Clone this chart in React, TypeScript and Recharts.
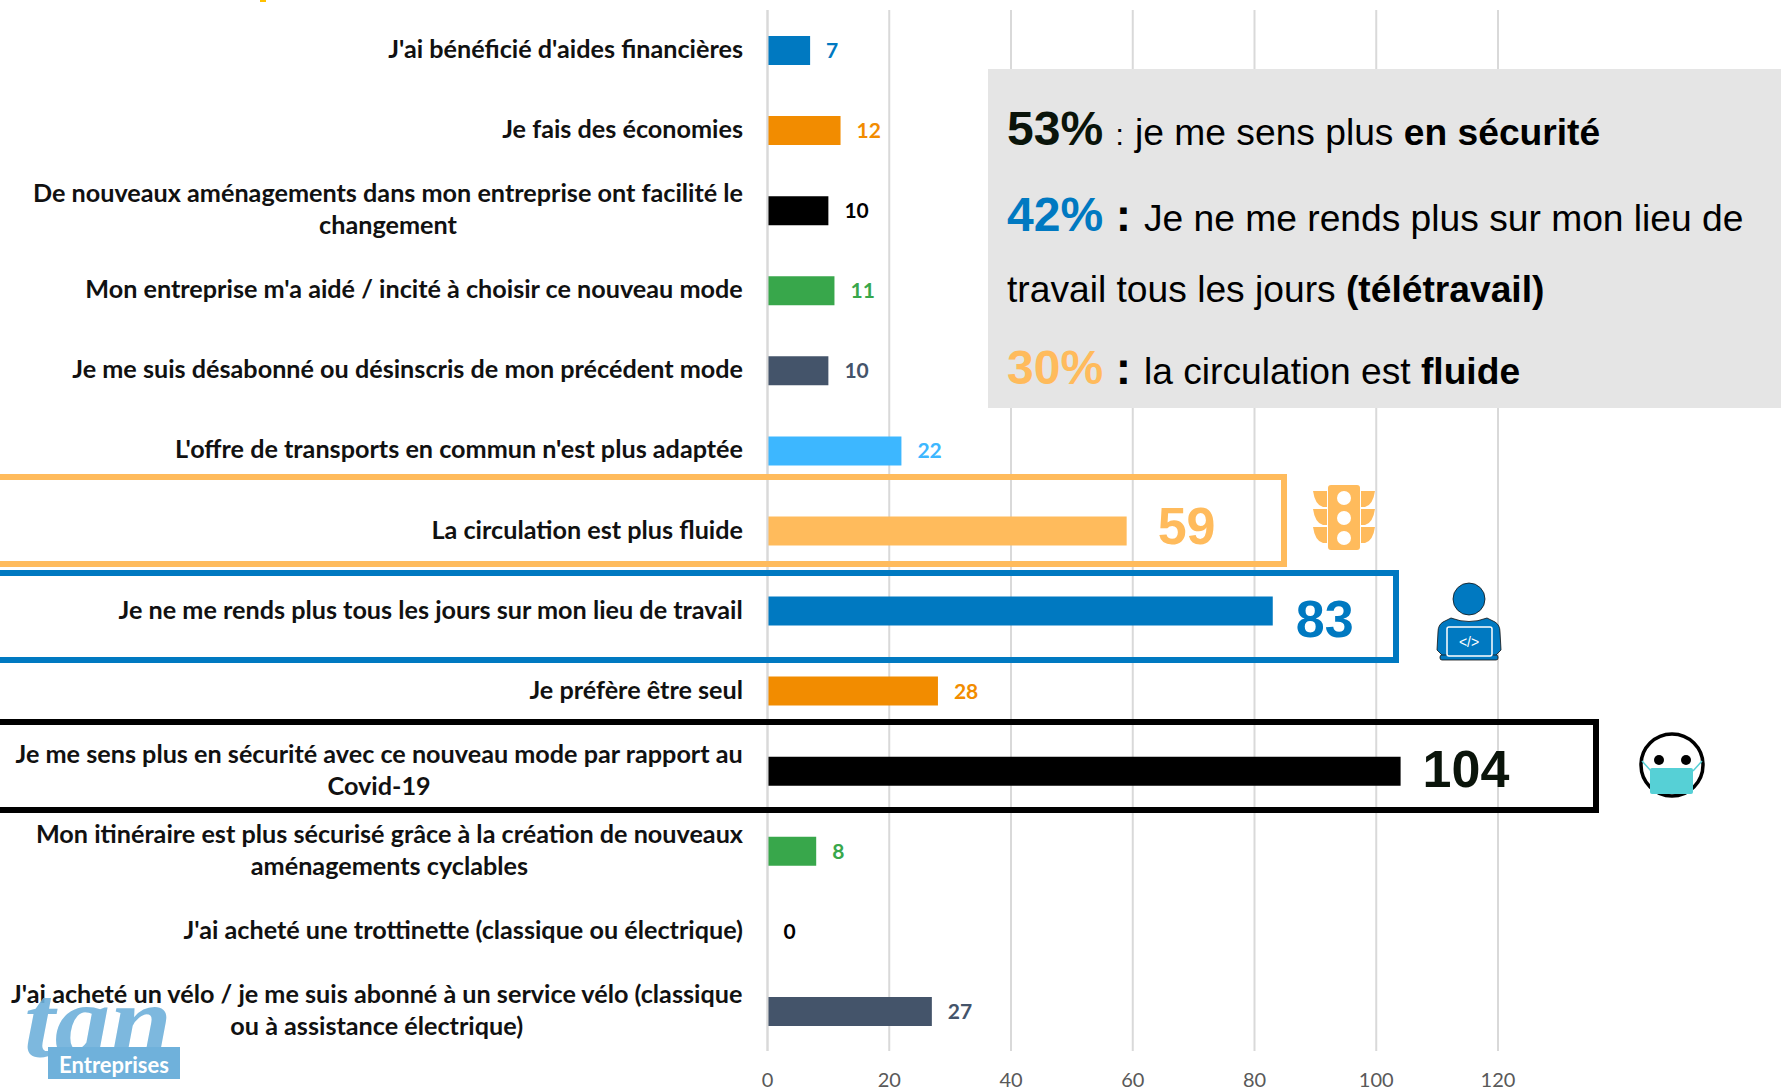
import React from "react";
import { ComposedChart, Bar, Line, XAxis, YAxis, CartesianGrid, Cell, LabelList } from "recharts";

const categories = [
  "J'ai bénéficié d'aides financières",
  "Je fais des économies",
  "De nouveaux aménagements dans mon entreprise ont facilité le\nchangement",
  "Mon entreprise m'a aidé / incité à choisir ce nouveau mode",
  "Je me suis désabonné ou désinscris de mon précédent mode",
  "L'offre de transports en commun n'est plus adaptée",
  "La circulation est plus fluide",
  "Je ne me rends plus tous les jours sur mon lieu de travail",
  "Je préfère être seul",
  "Je me sens plus en sécurité avec ce nouveau mode par rapport au\nCovid-19",
  "Mon itinéraire est plus sécurisé grâce à la création de nouveaux\naménagements cyclables",
  "J'ai acheté une trottinette (classique ou électrique)",
  "J'ai acheté un vélo / je me suis abonné à un service vélo (classique\nou à assistance électrique)",
];
const values = [7, 12, 10, 11, 10, 22, 59, 83, 28, 104, 8, 0, 27];
const xTicks = [0, 20, 40, 60, 80, 100, 120];

const BLUE = "#0079c1";
const ORANGE = "#f28c00";
const BLACK = "#000000";
const GREEN = "#38a74b";
const SLATE = "#44546a";
const SKY = "#3db7ff";
const AMBER = "#ffbb5c";
const barColors = [BLUE, ORANGE, BLACK, GREEN, SLATE, SKY, AMBER, BLUE, ORANGE, BLACK, GREEN, BLACK, SLATE];

// big labels of the three boxed rows: gap after the bar, vertical shift
const bigLabels: Record<number, { gap: number; dy: number }> = {
  6: { gap: 31, dy: -5 },
  7: { gap: 23, dy: 8 },
  9: { gap: 22, dy: -2 },
};

const data = categories.map((name, i) => ({ name, value: values[i] }));

const tickFont = "bold 25.2px Lato";
const measure = (s: string) => {
  const ctx = document.createElement("canvas").getContext("2d")!;
  ctx.font = tickFont;
  return ctx.measureText(s).width;
};

const CategoryTick = (props: any) => {
  const { y, payload } = props;
  const lines: string[] = String(payload.value).split("\n");
  const right = 743;
  const widest = Math.max(...lines.map(measure));
  const cx = right - widest / 2;
  const top = y - ((lines.length - 1) * 32) / 2 + 8;
  return (
    <text fontFamily="Lato" fontWeight={700} fontSize={25.2} fill="#111">
      {lines.map((l, i) => (
        <tspan key={i} x={cx} y={top + i * 32} textAnchor="middle">
          {l}
        </tspan>
      ))}
    </text>
  );
};

// drawn from an invisible line, since the bar series drops its zero value
const ValueLabel = (props: any) => {
  const { x, y, value, index } = props;
  const big = bigLabels[index];
  if (big) {
    return (
      <text
        x={x + big.gap}
        y={y + big.dy + 18}
        fontFamily="Liberation Sans"
        fontWeight={700}
        fontSize={52}
        fill={barColors[index] === BLACK ? "#0a140a" : barColors[index]}
      >
        {value}
      </text>
    );
  }
  return (
    <text x={x + 16} y={y + 8} fontFamily="Lato" fontWeight={700} fontSize={21} fill={barColors[index]}>
      {value}
    </text>
  );
};

const Overlay = () => (
  <svg
    width={1781}
    height={1091}
    style={{ position: "absolute", left: 0, top: 0, pointerEvents: "none" }}
  >
    {/* stray mark at the top edge */}
    <rect x={260} y={0} width={6} height={2} fill="#ffc000" />

    {/* boxes around the three main answers */}
    <rect x={-10} y={477} width={1294} height={87} fill="none" stroke={AMBER} strokeWidth={6} />
    <rect x={-10} y={573} width={1406} height={87} fill="none" stroke={BLUE} strokeWidth={6} />
    <rect x={-10} y={722} width={1606} height={88} fill="none" stroke={BLACK} strokeWidth={6} />

    {/* grey text panel */}
    <rect x={988} y={69} width={793} height={339} fill="#e5e5e5" />
    <g fontFamily="Liberation Sans" fontSize={37.2} fill="#000">
      <text x={1007} y={145}>
        <tspan fontWeight={700} fontSize={48} fill="#0a140a">53%</tspan>
        <tspan fontSize={30} dx={4}> : </tspan>
        <tspan dx={3}>je me sens plus </tspan>
        <tspan fontWeight={700}>en sécurité</tspan>
      </text>
      <text x={1007} y={231}>
        <tspan fontWeight={700} fontSize={48} fill={BLUE}>42%</tspan>
        <tspan fontWeight={700} fontSize={46}> : </tspan>
        <tspan>Je ne me rends plus sur mon lieu de</tspan>
      </text>
      <text x={1007} y={302}>
        <tspan>travail tous les jours </tspan>
        <tspan fontWeight={700}>(télétravail)</tspan>
      </text>
      <text x={1007} y={384}>
        <tspan fontWeight={700} fontSize={48} fill={AMBER}>30%</tspan>
        <tspan fontWeight={700} fontSize={46}> : </tspan>
        <tspan>la circulation est </tspan>
        <tspan fontWeight={700}>fluide</tspan>
      </text>
    </g>

    {/* traffic light */}
    <g fill={AMBER}>
      <rect x={1328} y={485} width={32} height={65} rx={3} />
      {[491, 509, 527].map((t) => (
        <g key={t}>
          <path d={`M1313 ${t} h14 v16 h-4 q-8 -2 -10 -16z`} />
          <path d={`M1375 ${t} h-14 v16 h4 q8 -2 10 -16z`} />
        </g>
      ))}
      <g fill="#fff">
        <circle cx={1344} cy={498} r={7} />
        <circle cx={1344} cy={518} r={7} />
        <circle cx={1344} cy={538} r={7} />
      </g>
    </g>

    {/* person at a laptop */}
    <g fill={BLUE} stroke="#111" strokeWidth={0.8}>
      <ellipse cx={1469} cy={599} rx={16} ry={16} />
      <path d="M1451 618 q18 7 36 0 l8 4 q5 3 5 10 l1 18 l-6 6 h-52 l-6 -6 l1 -18 q0 -7 5 -10z" />
      <rect x={1440} y={655} width={58} height={5} rx={2} />
    </g>
    <rect x={1447} y={627} width={45} height={29} rx={2} fill={BLUE} stroke="#fff" strokeWidth={1.5} />
    <text x={1469} y={647} textAnchor="middle" fontFamily="Liberation Sans" fontSize={14} fill="#fff">
      {"</>"}
    </text>

    {/* masked face */}
    <ellipse cx={1672} cy={765} rx={31} ry={31} fill="#fff" stroke="#000" strokeWidth={3.5} />
    <circle cx={1659} cy={760} r={5} fill="#000" />
    <circle cx={1686} cy={760} r={5} fill="#000" />
    <path d="M1642 761 L1651 771 M1702 761 L1693 771" stroke="#56d0d6" strokeWidth={1.5} />
    <rect x={1650} y={768} width={43} height={26} rx={2} fill="#56d0d6" />

    {/* logo */}
    <text
      x={24}
      y={1056}
      fontFamily="Liberation Serif"
      fontStyle="italic"
      fontWeight={700}
      fontSize={104}
      fill="#6fb1db"
      opacity={0.9}
      textLength={148}
      lengthAdjust="spacingAndGlyphs"
    >
      tan
    </text>
    <rect x={48} y={1047} width={132} height={32} fill="#6fb1db" />
    <text x={114} y={1073} textAnchor="middle" fontFamily="Lato" fontWeight={700} fontSize={22} fill="#fff">
      Entreprises
    </text>
  </svg>
);

export default function App() {
  return (
    <div style={{ position: "absolute", left: 0, top: 0, width: 1781, height: 1091, overflow: "hidden", background: "#fff" }}>
      <ComposedChart
        width={1781}
        height={1091}
        layout="vertical"
        data={data}
        margin={{ top: 10, right: 283, bottom: 0, left: 0 }}
        barCategoryGap="0%"
      >
        <CartesianGrid horizontal={false} stroke="#d9d9d9" strokeWidth={2} />
        <XAxis
          type="number"
          domain={[0, 120]}
          ticks={xTicks}
          height={40}
          axisLine={false}
          tickLine={false}
          tick={{ fill: "#595959", fontSize: 20, fontFamily: "Lato" }}
          tickMargin={16}
        />
        <YAxis
          type="category"
          dataKey="name"
          width={767.5}
          interval={0}
          tick={CategoryTick}
          tickLine={false}
          axisLine={{ stroke: "#d9d9d9", strokeWidth: 2 }}
        />
        <Bar dataKey="value" barSize={29} isAnimationActive={false}>
          {data.map((_, i) => (
            <Cell key={i} fill={barColors[i]} />
          ))}
        </Bar>
        <Line dataKey="value" stroke="none" dot={false} activeDot={false} legendType="none" isAnimationActive={false}>
          <LabelList dataKey="value" content={ValueLabel} />
        </Line>
      </ComposedChart>
      <Overlay />
    </div>
  );
}
